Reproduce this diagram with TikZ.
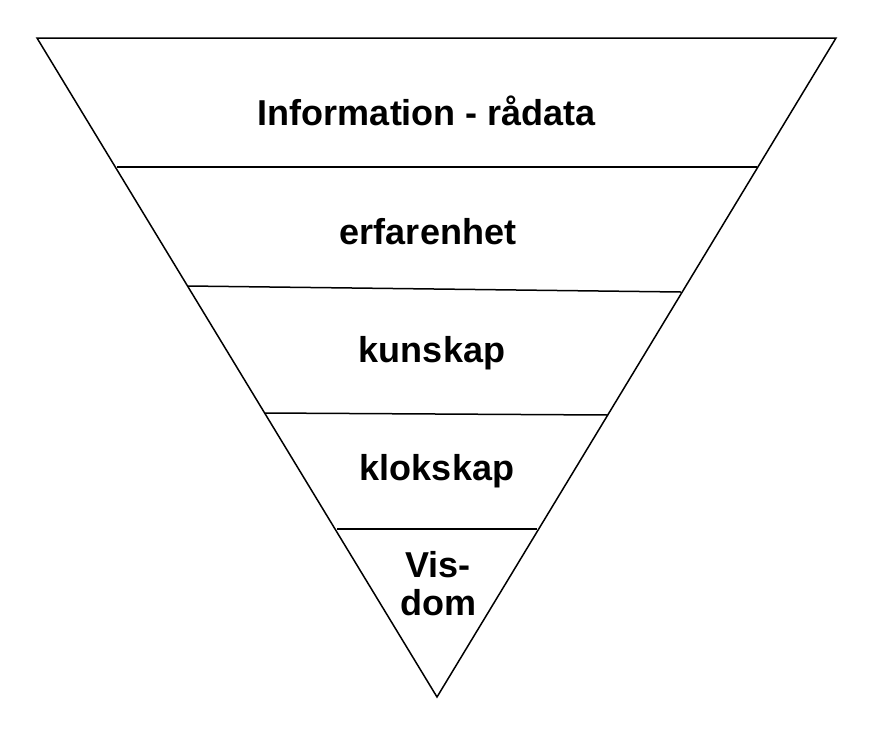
\documentclass[tikz,border=0pt]{standalone}
\usepackage{fontspec}
\setmainfont{Liberation Sans}
\begin{document}
\begin{tikzpicture}[x=1pt,y=-1pt,line width=1.5pt,
  lbl/.style={font=\fontsize{36}{38}\selectfont\bfseries,align=center,inner sep=0pt}]
\useasboundingbox (0,0) rectangle (872,734);
\coordinate (tl) at (37,38); \coordinate (tr) at (836,38); \coordinate (ap) at (437,697);
\draw (tl) -- (tr) -- (ap) -- cycle;
\coordinate (a1) at (117,167); \coordinate (b1) at (757,167);
\coordinate (a2) at (188,286); \coordinate (b2) at (681,292);
\coordinate (a3) at (265,413); \coordinate (b3) at (608,415);
\coordinate (a4) at (337,529); \coordinate (b4) at (537,529);
\draw (a1) -- (b1); \draw (a2) -- (b2); \draw (a3) -- (b3); \draw (a4) -- (b4);
\node[lbl] (t1) at (427,111) {Information - rådata};
\node[lbl] (t2) at (428,232) {erfarenhet};
\node[lbl] (t3) at (432,353) {kunskap};
\node[lbl] (t4) at (437,471) {klokskap};
\node[lbl] (t5) at (438,584) {Vis-\\dom};
\end{tikzpicture}
\end{document}
